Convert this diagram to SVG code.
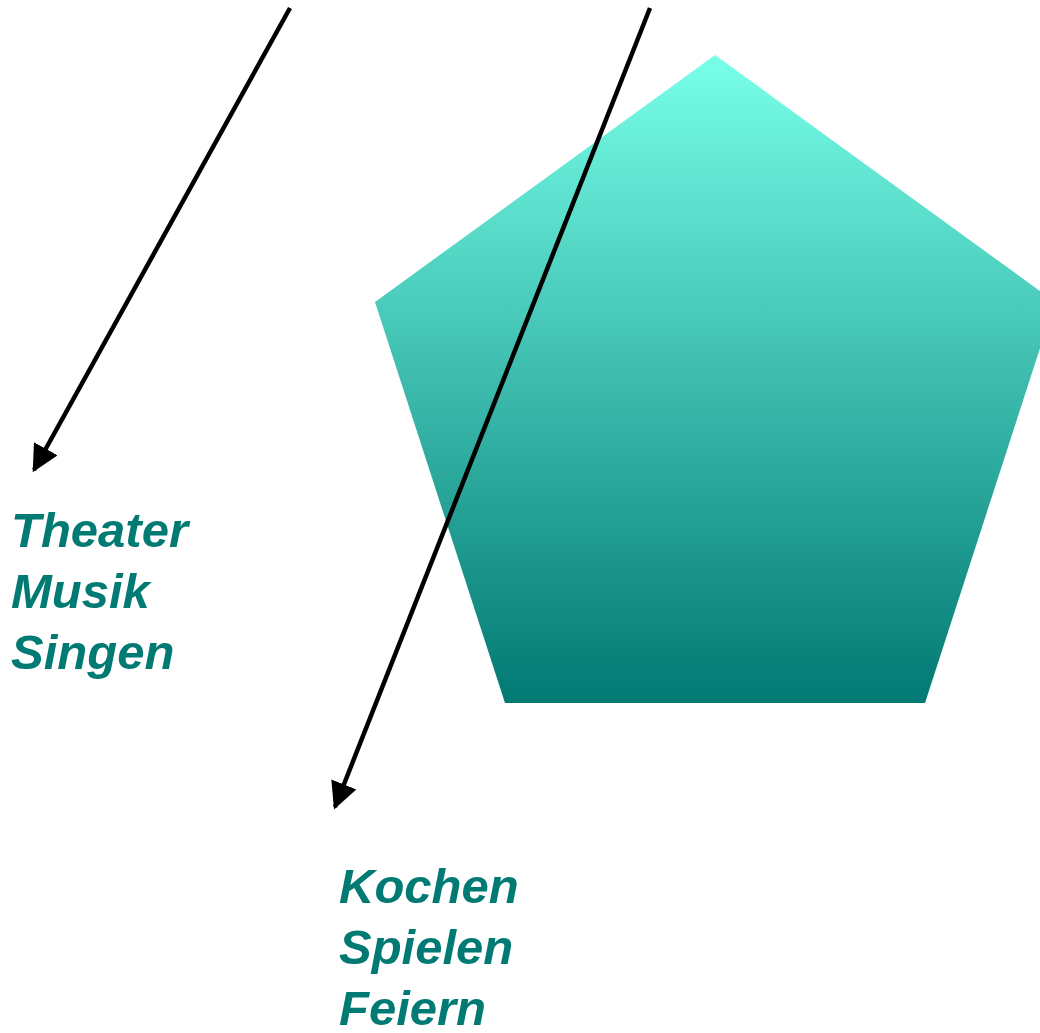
<svg xmlns="http://www.w3.org/2000/svg" width="1040" height="1033" viewBox="0 0 1040 1033">
<style>
.lbl{font-family:"Liberation Sans",Arial,sans-serif;font-weight:bold;font-style:italic;font-size:49px;fill:#007A72}
.con{stroke:#000;stroke-width:4.5;fill:none}
</style>
<defs>
<linearGradient id="g" x1="0" y1="0" x2="0" y2="1">
<stop offset="0" stop-color="#78FFE9"/>
<stop offset="1" stop-color="#027973"/>
</linearGradient>
<marker id="ah" viewBox="0 0 10 10" refX="9" refY="5" markerWidth="6" markerHeight="6" orient="auto" markerUnits="strokeWidth">
<path d="M0,0 L10,5 L0,10 z" fill="#000"/>
</marker>
</defs>
<g id="pentagon">
<polygon points="715,55 1055,302 925,703 505,703 375,302" fill="url(#g)"/>
</g>
<g id="connectors">
<line class="con" x1="290" y1="8" x2="34" y2="470" marker-end="url(#ah)"/>
<line class="con" x1="650" y1="8" x2="335" y2="807" marker-end="url(#ah)"/>
</g>
<g id="label1">
<text class="lbl" x="11" y="547">Theater</text>
<text class="lbl" x="11" y="608">Musik</text>
<text class="lbl" x="11" y="669">Singen</text>
</g>
<g id="label2">
<text class="lbl" x="339" y="903">Kochen</text>
<text class="lbl" x="339" y="964">Spielen</text>
<text class="lbl" x="339" y="1025">Feiern</text>
</g>
</svg>
